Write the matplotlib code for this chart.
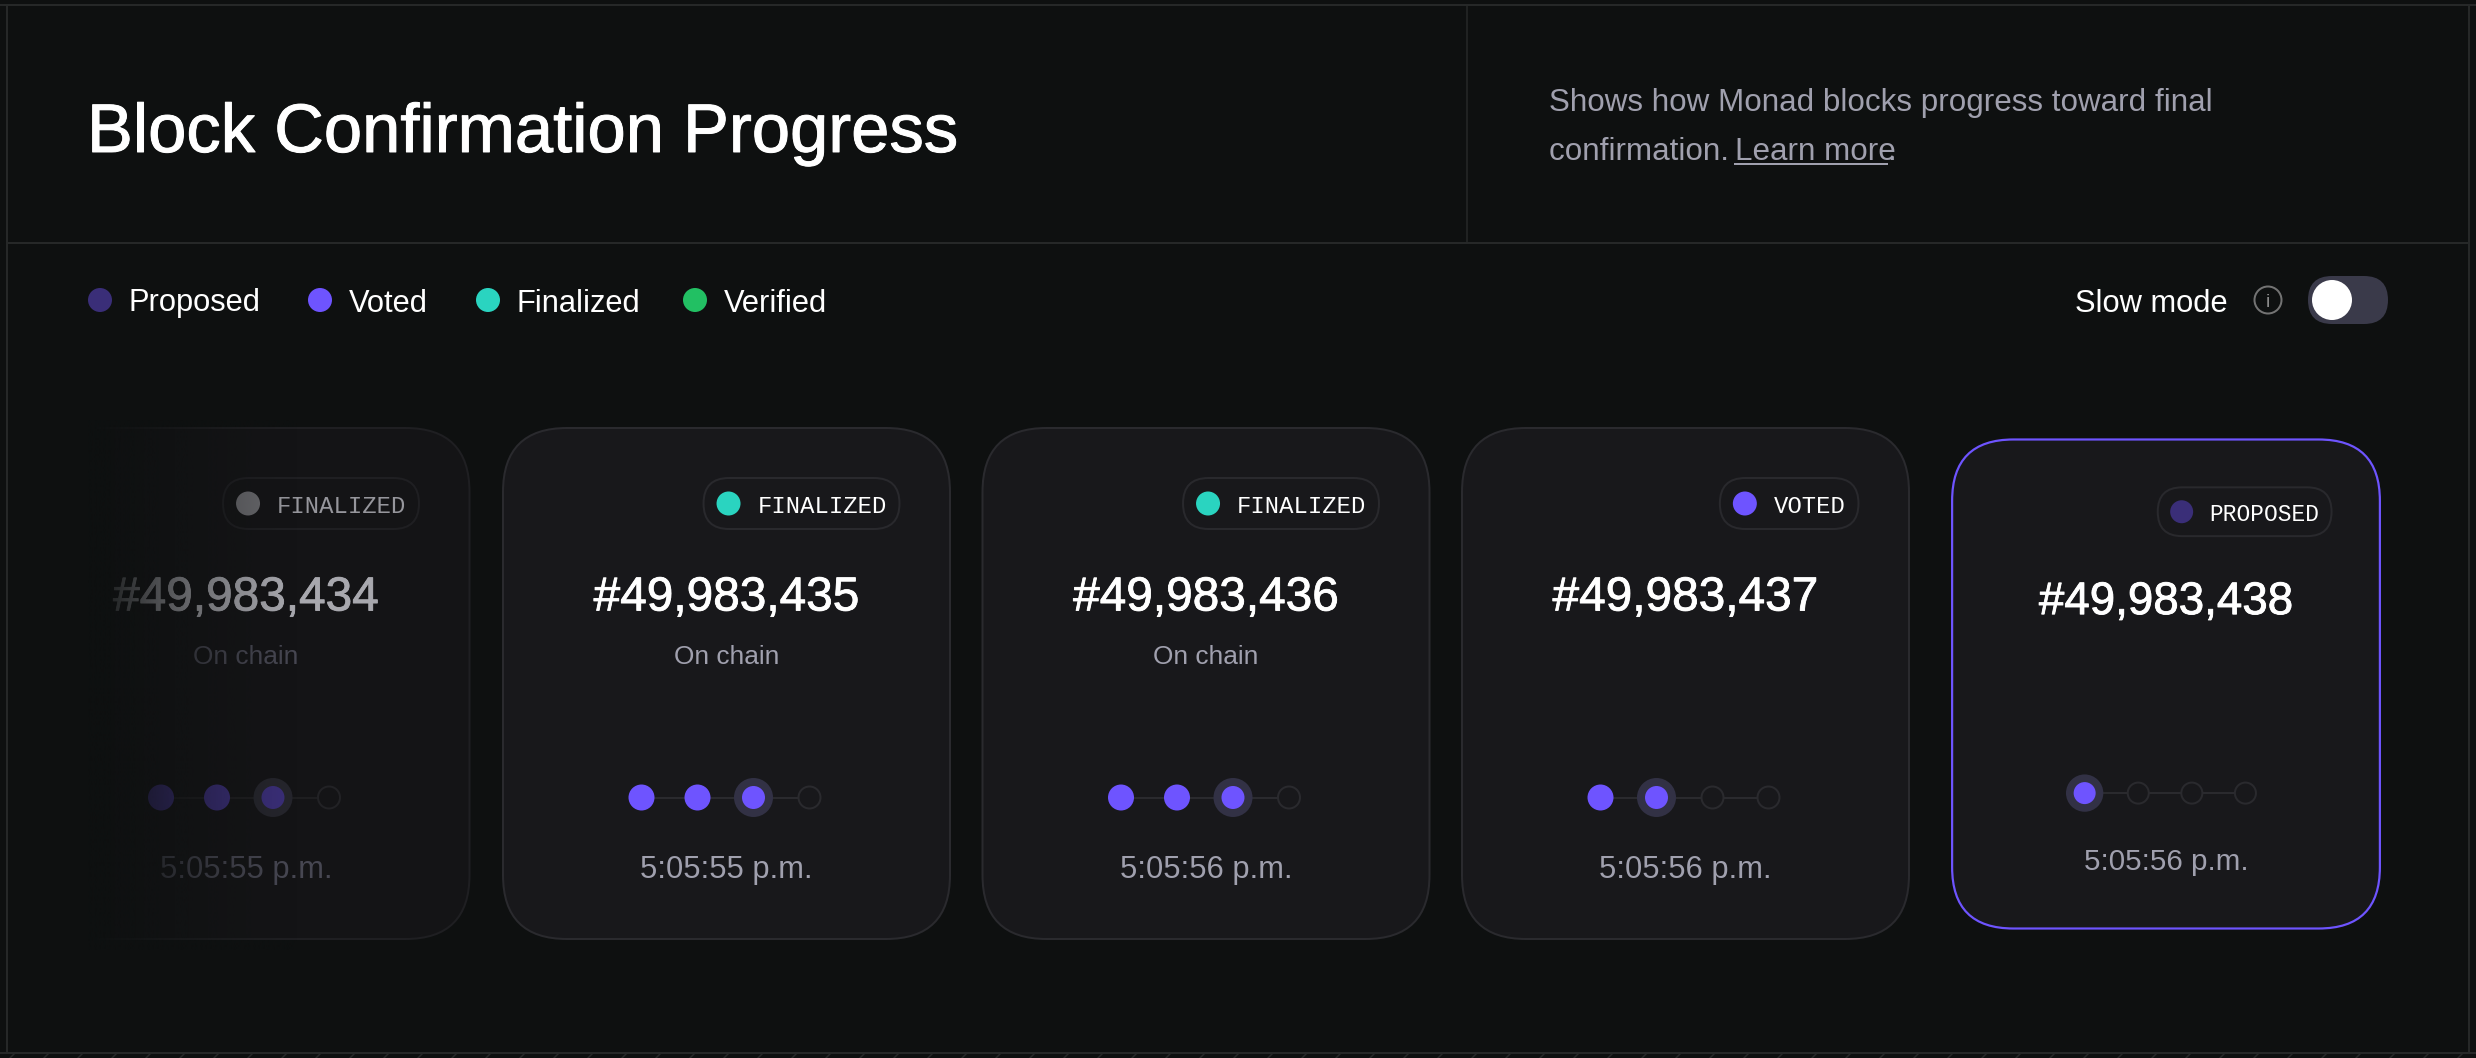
import numpy as np
import matplotlib
matplotlib.use("Agg")
import matplotlib.pyplot as plt
from matplotlib.patches import FancyBboxPatch, Circle
from matplotlib.colors import to_rgb
import matplotlib.patheffects as pe

# ---------- content ----------
title = "Block Confirmation Progress"
desc_line1 = "Shows how Monad blocks progress toward final"
desc_line2 = "confirmation. "
desc_link = "Learn more"
toggle_label = "Slow mode"

legend_labels = ["Proposed", "Voted", "Finalized", "Verified"]

block_ids = ["#49,983,434", "#49,983,435", "#49,983,436", "#49,983,437", "#49,983,438"]
block_status = ["FINALIZED", "FINALIZED", "FINALIZED", "VOTED", "PROPOSED"]
block_notes = ["On chain", "On chain", "On chain", "", ""]
block_times = ["5:05:55 p.m.", "5:05:55 p.m.", "5:05:56 p.m.", "5:05:56 p.m.", "5:05:56 p.m."]
block_steps = [3, 3, 3, 2, 1]
total_steps = 4

# ---------- styling ----------
BG = "#0e1010"
LINE = "#262828"
CARD = "#18181b"
CARD_EDGE = "#2a2a2e"
GREY = "#a0a0ae"
PURPLE = "#6e54ff"
DARK = "#3a2e78"
TEAL = "#2ad4c0"
GREEN = "#22c063"
legend_colors = [DARK, PURPLE, TEAL, GREEN]
status_colors = {"PROPOSED": DARK, "VOTED": PURPLE, "FINALIZED": TEAL}

NORMAL = dict(card=CARD, edge=CARD_EDGE, num="white", note=GREY, time=GREY, pill_edge="#29292d",
              pill_text="white", filled=PURPLE, active=PURPLE, halo="#323145", link="#2a2a2e",
              empty="#2a2a2e")
DIM = dict(card="#141416", edge="#1f1f22", num="#a8a8ae", note="#474752", time="#474752", pill_edge="#1f1f22",
           pill_text="#96969c", filled=DARK, active=DARK, halo="#25252c", link="#1e1e20",
           empty="#222225")

SANS = "Liberation Sans"
MONO = "Liberation Mono"
px = 0.72  # pixels to points at dpi 100

plt.rcParams["font.family"] = [SANS, "DejaVu Sans"]

fig = plt.figure(figsize=(24.76, 10.58), dpi=100, facecolor=BG)
ax = fig.add_axes([0, 0, 1, 1])
ax.set_facecolor(BG)
ax.axis("off")


def bold(w):
    return [pe.withStroke(linewidth=w, foreground="white")]


# ---------- frame ----------
ax.plot([7, 7], [5, 1053], color=LINE, lw=2 * px)
ax.plot([2469, 2469], [5, 1053], color=LINE, lw=2 * px)
ax.plot([0, 2476], [5, 5], color=LINE, lw=2 * px)
ax.plot([0, 2476], [1053, 1053], color=LINE, lw=2 * px)
ax.plot([7, 2469], [243, 243], color=LINE, lw=2 * px)
ax.plot([1467, 1467], [5, 243], color=LINE, lw=1.5 * px)
for x in range(10, 2476, 34):
    ax.plot([x, x + 5], [1058, 1053], color=LINE, lw=1.5 * px)

# ---------- header ----------
t = ax.text(87, 152, title, color="white", fontsize=49.5, ha="left", va="baseline", family=SANS)
t.set_path_effects([pe.withStroke(linewidth=0.7, foreground="white")])
ax.text(1549, 111.5, desc_line1, color=GREY, fontsize=22.6, va="baseline", family=SANS)
ax.text(1549, 160, desc_line2, color=GREY, fontsize=22.6, va="baseline", family=SANS)
ax.text(1735, 160, desc_link, color=GREY, fontsize=22.6, va="baseline", family=SANS)
ax.text(1887, 160, ".", color=GREY, fontsize=22.6, va="baseline", family=SANS)
ax.plot([1735, 1887], [164, 164], color=GREY, lw=2 * px)

# ---------- legend ----------
legend_dot_x = [100, 320, 488, 695]
for lab, col, x in zip(legend_labels, legend_colors, legend_dot_x):
    ax.add_patch(Circle((x, 300), 12, fc=col, ec="none"))
    ax.text(x + 28.5, 311.5, lab, color="white", fontsize=22.2, va="baseline", family=SANS)

# ---------- toggle ----------
ax.text(2075, 311.5, toggle_label, color="white", fontsize=22.2, va="baseline", family=SANS)
ax.add_patch(Circle((2268, 300), 13.5, fc="none", ec="#737373", lw=2 * px))
ax.text(2268, 307, "i", color="#8a8a8a", fontsize=14, ha="center", va="baseline", family=SANS)
ax.add_patch(FancyBboxPatch((2332, 300), 32, 0, boxstyle="round,pad=0,rounding_size=0",
                            fc="none", ec="none"))
ax.add_patch(FancyBboxPatch((2308, 276), 80, 48, boxstyle="round,pad=0,rounding_size=24",
                            fc="#3a3a4a", ec="none"))
ax.add_patch(Circle((2332, 300), 20, fc="white", ec="none"))


# ---------- cards ----------
def draw_card(cx, cy, scale, block, status, note, when, steps, pal, pill_dot, edge_col=None, z=3):
    W, H = 447 * scale, 511 * scale
    R = 64 * scale

    def X(dx):
        return cx + dx * scale

    def Y(dy):
        return cy + dy * scale

    ax.add_patch(FancyBboxPatch((cx - W / 2, cy - H / 2), W, H,
                                boxstyle=f"round,pad=0,rounding_size={R}",
                                fc=pal["card"], ec=edge_col or pal["edge"],
                                lw=(2.2 if edge_col else 2) * px, zorder=z))
    # status pill
    pill_w = 67 + 14.33 * len(status)
    right = 173
    ax.add_patch(FancyBboxPatch((X(right - pill_w), Y(-205.5)), pill_w * scale, 51 * scale,
                                boxstyle=f"round,pad=0,rounding_size={25.5 * scale}",
                                fc=pal["card"], ec=pal["pill_edge"], lw=2 * px, zorder=z + 1))
    ax.add_patch(Circle((X(right - pill_w + 25), Y(-180)), 12 * scale, fc=pill_dot, ec="none", zorder=z + 2))
    ax.text(X(right - pill_w + 54), Y(-170.5), status, color=pal["pill_text"], family=MONO,
            fontsize=17.2 * scale, va="baseline", ha="left", zorder=z + 2)
    # block number
    tx = ax.text(cx, Y(-73), block, color=pal["num"], fontsize=34.4 * scale, ha="center",
                 va="baseline", family=SANS, zorder=z + 2)
    tx.set_path_effects([pe.withStroke(linewidth=0.6, foreground=pal["num"])])
    if note:
        ax.text(cx, Y(-20), note, color=pal["note"], fontsize=18.9 * scale, ha="center",
                va="baseline", family=SANS, zorder=z + 2)
    # progress track
    step_x = [X(-85 + 56 * k) for k in range(total_steps)]
    sy = Y(114)
    ax.plot(step_x, [sy] * total_steps, color=pal["link"], lw=2 * px, zorder=z + 1)
    for k, sx in enumerate(step_x):
        if k < steps - 1:
            ax.add_patch(Circle((sx, sy), 13 * scale, fc=pal["filled"], ec="none", zorder=z + 2))
        elif k == steps - 1:
            ax.add_patch(Circle((sx, sy), 19.5 * scale, fc=pal["halo"], ec="none", zorder=z + 2))
            ax.add_patch(Circle((sx, sy), 11.5 * scale, fc=pal["active"], ec="none", zorder=z + 3))
        else:
            ax.add_patch(Circle((sx, sy), 11 * scale, fc=pal["card"], ec=pal["empty"], lw=2 * px, zorder=z + 2))
    ax.text(cx, Y(194.5), when, color=pal["time"], fontsize=22.2 * scale, ha="center",
            va="baseline", family=SANS, zorder=z + 2)


card_cx = [246, 726.5, 1206, 1685.5, 2166]
card_cy = [683.5, 683.5, 683.5, 683.5, 684]
card_scale = [1, 1, 1, 1, 0.957]
for i in range(len(block_ids)):
    pal = DIM if i == 0 else NORMAL
    pill_dot = "#69696d" if i == 0 else status_colors[block_status[i]]
    draw_card(card_cx[i], card_cy[i], card_scale[i], block_ids[i], block_status[i], block_notes[i],
              block_times[i], block_steps[i], pal, pill_dot, edge_col=PURPLE if i == 4 else None)

# left fade over the oldest card
fade = np.zeros((1, 256, 4))
fade[..., :3] = to_rgb(BG)
u = np.linspace(0, 1, 256)
fade[..., 3] = (1 - u) ** 1.3
ax.imshow(fade, extent=(88, 300, 950, 420), aspect="auto", zorder=10, interpolation="bilinear")
ax.add_patch(FancyBboxPatch((14, 420), 74, 530, boxstyle="square,pad=0", fc=BG, ec="none", zorder=10))

ax.set_xlim(0, 2476)
ax.set_ylim(1058, 0)
fig.savefig("out.png", dpi=100, facecolor=BG)
